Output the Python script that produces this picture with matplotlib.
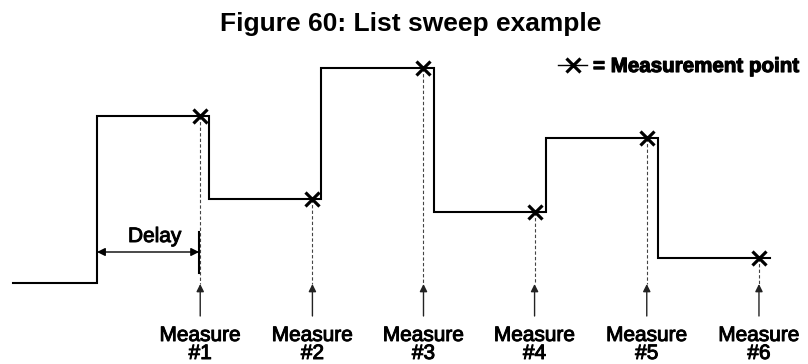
#!/usr/bin/env python3
# -*- coding: utf-8 -*-

"""
List sweep timing diagram: step output with a measurement after each delay
"""

import matplotlib.pyplot as plt
import matplotlib.patheffects as pe

plt.rcParams['font.family'] = ['Liberation Sans', 'DejaVu Sans']

# DATA ########################################################################

start_t = -0.75
step_t = [0, 1, 2, 3, 4, 5]          # time of each level change
end_t = 6
levels = [6.68, 3.36, 8.6, 2.84, 5.8, 1.0]
delay = 0.91
measure_t = [0.92, 1.92, 2.91, 3.90, 4.90, 5.90]
measure_labels = ["#1", "#2", "#3", "#4", "#5", "#6"]

# thicker look for the regular labels, as in the scanned figure
heavy = [pe.withStroke(linewidth=0.7, foreground="black")]

# FIGURE ######################################################################

fig = plt.figure(figsize=(8.08, 3.64), dpi=100)
ax = fig.add_axes([0, 0, 1, 1])
ax.set_xlim(-0.8645, 6.337)
ax.set_ylim(-3.24, 11.32)
ax.axis("off")

# step waveform
t = [start_t] + step_t + [end_t]
v = [0] + levels + [levels[-1]]
ax.plot(t, v, drawstyle="steps-post", color="black", lw=1.5,
        solid_joinstyle="miter", zorder=3)

# measurement points, dashed drop lines and arrows
arrow_top = -0.04
arrow_bottom = -1.32
for mt, lev, lab in zip(measure_t, levels, measure_labels):
    ax.plot([mt, mt], [lev, arrow_top], color="#444444", lw=0.8,
            dashes=(3, 2), zorder=2)
    ax.plot(mt, lev, marker="x", markersize=10.5, mew=2.3, color="black",
            zorder=4)
    ax.annotate("", xy=(mt, arrow_top), xytext=(mt, arrow_bottom),
                arrowprops=dict(arrowstyle="-|>", color="#222222", lw=1.0,
                                mutation_scale=11, shrinkA=0, shrinkB=0))
    ax.text(mt, -2.32, "Measure", ha="center", va="baseline", fontsize=15,
            path_effects=heavy)
    ax.text(mt, -3.04, lab, ha="center", va="baseline", fontsize=15,
            path_effects=heavy)

# delay annotation
ax.annotate("", xy=(step_t[0], 1.24), xytext=(step_t[0] + delay, 1.24),
            arrowprops=dict(arrowstyle="<|-|>", color="black", lw=1.0,
                            mutation_scale=12, shrinkA=0, shrinkB=0))
ax.plot([step_t[0] + delay] * 2, [0.4, 2.04], color="black", lw=1.5)
ax.text(step_t[0] + delay / 2 + 0.06, 1.64, "Delay", ha="center",
        va="baseline", fontsize=15, path_effects=heavy)

# legend for measurement point
ax.plot([0.6906, 0.7265], [0.8214, 0.8214], color="black", lw=1.0,
        transform=ax.transAxes)
ax.plot(0.7092, 0.8214, marker="x", markersize=10.5, mew=2.3, color="black",
        transform=ax.transAxes)
ax.text(0.7339, 0.8022, "= Measurement point", ha="left", va="baseline",
        fontsize=14.8, fontweight="bold", transform=ax.transAxes,
        path_effects=[pe.withStroke(linewidth=0.8, foreground="black")])

# title
fig.text(0.508, 0.915, "Figure 60: List sweep example", ha="center",
         va="baseline", fontsize=19, fontweight="bold")

# SAVE FILE ###################################################################

plt.savefig("out.png", dpi=100)
